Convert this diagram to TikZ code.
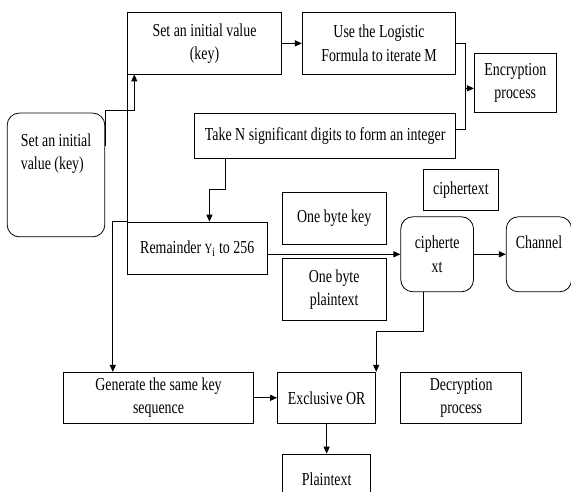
\documentclass[tikz,border=0pt]{standalone}
\usepackage{fontspec}
\setmainfont[FakeStretch=0.76]{Liberation Serif}
\usetikzlibrary{positioning}
\usetikzlibrary{arrows.meta}

\begin{document}
\begin{tikzpicture}[x=1pt, y=-1pt,
                          >={Triangle[length=7pt,width=6pt]},
                          squarednode/.style={rectangle, draw, line width=0.8pt, inner sep=2pt, align=center, font={\fontsize{18.3}{23.3}\selectfont}},
                          roundednode/.style={squarednode, rounded corners=12pt},
                          every path/.style={line width=1.1pt},
                      ]
                      \useasboundingbox (0,0) rectangle (571,492);
                      % Nodes
                      \node[squarednode, minimum width=154pt, minimum height=61.3pt]      (init)      at (204.5,43.35)        {Set an initial value\\(key)};
                      \node[squarednode, minimum width=153.5pt, minimum height=61.3pt]    (logistic)  [right=20pt of init]    {Use the Logistic\\Formula to iterate M};
                      \node[squarednode, minimum width=82pt, minimum height=59pt]         (encrypt)   [below right=40.6pt and 17.7pt of logistic.north east]    {Encryption\\process};
                      \node[squarednode, minimum width=261.3pt, minimum height=45.4pt]    (take_n)    [below left=38.3pt and 0pt of logistic.south east]    {Take N significant digits to form an integer};
                      \node[roundednode, align=left, minimum width=97.6pt, minimum height=123.7pt]     (init_l)    [below left=38.3pt and 21.9pt of init.south west]    {Set an initial\\value (key)\\~\\~};

                      \node[squarednode, minimum width=139.5pt, minimum height=52.7pt]    (remainder) [below right=147.3pt and 0pt of init.south west]    {Remainder {\fontsize{14}{14}\selectfont Y}\textsubscript{i} to 256};
                      \node[squarednode, minimum width=103.8pt, minimum height=52.6pt]    (one_key)   [above right=3.35pt and 14.5pt of remainder.east]    {One byte key};
                      \node[squarednode, minimum width=103.8pt, minimum height=61.3pt]    (one_plain) [below=13.4pt of one_key]    {One byte\\plaintext};
                      \node[roundednode, minimum width=72.7pt, minimum height=75pt]       (cipher)    [right=133pt of remainder.east, yshift=-5.85pt]    {cipherte\\xt};
                      \node[squarednode, minimum width=75.4pt, minimum height=40.7pt]     (ct_label)  [above right=6pt and 22.4pt of cipher.north west]    {ciphertext};
                      \node[roundednode, minimum width=65.3pt, minimum height=75pt]       (channel)   [right=32pt of cipher]    {Channel\\~};

                      \node[squarednode, minimum width=98.3pt, minimum height=51pt]       (xor)       [below left=79.7pt and 24.2pt of cipher.south west]    {Exclusive OR};
                      \node[squarednode, minimum width=189.7pt, minimum height=51pt]      (generate)  [left=23.3pt of xor]    {Generate the same key\\sequence};
                      \node[squarednode, minimum width=120.8pt, minimum height=51pt]      (decrypt)   [right=24.2pt of xor]    {Decryption\\process};
                      \node[squarednode, minimum width=88.1pt, minimum height=51pt]       (plain)     [below=30pt of xor]    {Plaintext};

                      \coordinate[right=9.3pt of logistic.east] (brk_top);
                      \coordinate (brk_mid) at ([yshift=-45pt]brk_top);
                      \coordinate (init_in) at ([xshift=7.2pt]init.south west);

                      %Lines
                      \draw[->] (init.east) -- (logistic.west);
                      \draw (logistic.east) -- (brk_top) |- ([yshift=6.7pt]take_n.east);
                      \draw[->] (brk_mid) -- (encrypt.west |- brk_mid);
                      \draw[->] ([yshift=29pt]init_l.east) -- ++(0pt,35pt) -| (init_in);
                      \draw (init.south west) -- (remainder.north west);
                      \draw[->] (remainder.north west) -| ([xshift=-45.75pt]generate.north);
                      \draw[->] ([xshift=-99.4pt]take_n.south) -- ++(0pt,-30.6pt) -| ([xshift=12.2pt]remainder.north);
                      \draw[->] (remainder.east |- cipher.west) -- (cipher.west);
                      \draw[->] (cipher.east) -- (channel.west);
                      \draw[->] ([xshift=-14pt]cipher.south) -- ++(0pt,-39pt) -| (xor.north east);
                      \draw[->] (generate.east) -- (xor.west);
                      \draw[->] (xor.south) -- (plain.north);
                  \end{tikzpicture}
\end{document}
